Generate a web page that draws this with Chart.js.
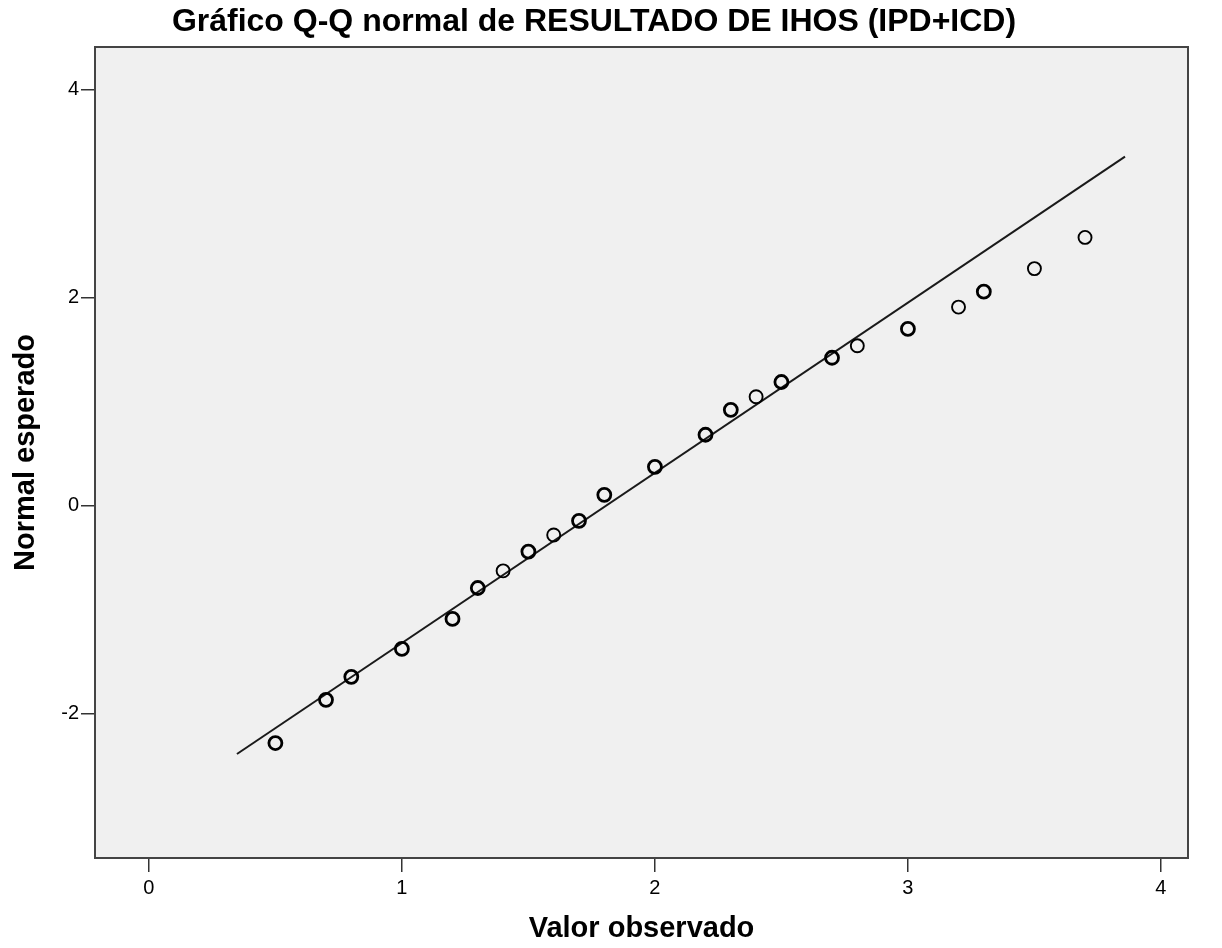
<!DOCTYPE html>
<html>
<head>
<meta charset="utf-8">
<script src="https://cdn.jsdelivr.net/npm/chart.js@4"></script>
<style>
html,body{margin:0;padding:0;background:#fff;}
#wrap{width:1222px;height:948px;position:relative;}
</style>
</head>
<body>
<div id="wrap"><canvas id="c" width="1222" height="948"></canvas></div>
<script>
const observed = [0.5, 0.7, 0.8, 1.0, 1.2, 1.3, 1.4, 1.5, 1.6, 1.7, 1.8, 2.0, 2.2, 2.3, 2.4, 2.5, 2.7, 2.8, 3.0, 3.2, 3.3, 3.5, 3.7];
const expectedNormal = [-2.28, -1.865, -1.644, -1.375, -1.087, -0.79, -0.625, -0.44, -0.28, -0.144, 0.106, 0.375, 0.683, 0.923, 1.048, 1.19, 1.423, 1.538, 1.70, 1.91, 2.058, 2.28, 2.58];
const counts = [2, 2, 2, 2, 2, 2, 1, 2, 1, 2, 2, 2, 2, 2, 1, 2, 2, 1, 2, 1, 2, 1, 1];
const refLineX = [0.348, 3.858];
const refLineY = [-2.385, 3.356];
const xTicks = [0, 1, 2, 3, 4];
const yTicks = [-2, 0, 2, 4];

const plotBg = {
  id: 'plotBg',
  beforeDraw(chart) {
    const {ctx, chartArea: a} = chart;
    ctx.save();
    ctx.fillStyle = '#f0f0f0';
    ctx.fillRect(a.left, a.top, a.right - a.left, a.bottom - a.top);
    ctx.restore();
  },
  afterDatasetsDraw(chart) {
    const {ctx, chartArea: a} = chart;
    ctx.save();
    ctx.strokeStyle = '#444';
    ctx.lineWidth = 2;
    ctx.strokeRect(a.left, a.top, a.right - a.left, a.bottom - a.top);
    ctx.restore();
  }
};

const sans = "'Liberation Sans', Arial, sans-serif";

new Chart(document.getElementById('c'), {
  type: 'scatter',
  data: {
    datasets: [
      {
        type: 'line',
        data: refLineX.map((x, i) => ({x, y: refLineY[i]})),
        borderColor: '#1a1a1a',
        borderWidth: 2,
        pointRadius: 0,
        fill: false,
        order: 2
      },
      {
        data: observed.map((x, i) => ({x, y: expectedNormal[i]})),
        pointRadius: 6.5,
        pointBackgroundColor: 'rgba(0,0,0,0)',
        pointBorderColor: '#000',
        pointBorderWidth: counts.map(c => c > 1 ? 2.8 : 1.9),
        showLine: false,
        order: 1
      }
    ]
  },
  options: {
    responsive: false,
    animation: false,
    devicePixelRatio: 1,
    layout: {padding: {left: 0, right: 34, top: 0, bottom: 0}},
    plugins: {
      legend: {display: false},
      tooltip: {enabled: false},
      title: {
        display: true,
        text: 'Gráfico Q-Q normal de RESULTADO DE IHOS (IPD+ICD)',
        color: '#000',
        font: {family: sans, size: 32, weight: 'bold', lineHeight: 1.2},
        padding: {top: 3, bottom: 5.6}
      }
    },
    scales: {
      x: {
        type: 'linear',
        min: -0.213,
        max: 4.107,
        afterBuildTicks(s) { s.ticks = xTicks.map(v => ({value: v})); },
        afterFit(s) { s.height = 90; },
        grid: {drawOnChartArea: false, drawTicks: true, tickLength: 14, color: '#333', lineWidth: 1.5},
        border: {display: false},
        ticks: {color: '#000', font: {family: sans, size: 20}, padding: 4, maxRotation: 0},
        title: {
          display: true,
          text: 'Valor observado',
          color: '#000',
          font: {family: sans, size: 29, weight: 'bold', lineHeight: 1},
          padding: {top: 0, bottom: 5}
        }
      },
      y: {
        type: 'linear',
        min: -3.385,
        max: 4.41,
        afterBuildTicks(s) { s.ticks = yTicks.map(v => ({value: v})); },
        afterFit(s) { s.width = 95; },
        grid: {drawOnChartArea: false, drawTicks: true, tickLength: 14, color: '#333', lineWidth: 1.5},
        border: {display: false},
        ticks: {color: '#000', font: {family: sans, size: 20}, padding: 2},
        title: {
          display: true,
          text: 'Normal esperado',
          color: '#000',
          font: {family: sans, size: 29, weight: 'bold', lineHeight: 1},
          padding: {top: 11, bottom: 0}
        }
      }
    }
  },
  plugins: [plotBg]
});
</script>
</body>
</html>
